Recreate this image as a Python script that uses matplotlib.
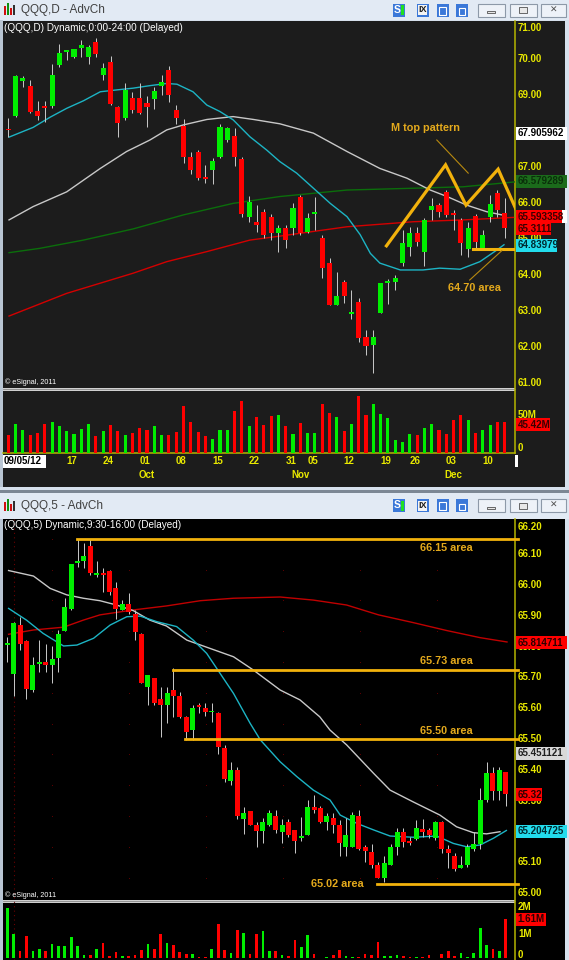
import matplotlib
matplotlib.use('Agg')
import matplotlib.pyplot as plt
import matplotlib.transforms as mtransforms
from matplotlib.patches import Rectangle
import numpy as np

# ---------------- DATA: daily QQQ chart ----------------
d_open = [68.05, 68.43, 69.40, 69.26, 68.56, 68.67, 68.70, 69.83, 70.20, 70.05,
          70.30, 70.06, 70.48, 69.56, 69.93, 68.68, 68.35, 68.93, 68.91, 68.79,
          68.88, 69.25, 69.69, 68.58, 68.15, 67.27, 67.43, 66.73, 66.92, 67.29,
          67.75, 67.86, 67.21, 65.62, 65.48, 65.76, 65.62, 65.16, 65.31, 65.30,
          66.18, 65.20, 65.70, 65.02, 64.33, 63.17, 63.81, 62.93, 63.26, 62.29,
          62.06, 62.95, 63.78, 63.81, 64.33, 64.79, 65.16, 64.65, 65.81, 65.94,
          66.31, 65.70, 65.53, 64.71, 65.64, 64.74, 65.60, 66.29, 65.71]
d_close = [68.02, 69.54, 69.46, 68.54, 68.43, 68.64, 69.56, 70.16, 70.23, 70.28,
           70.39, 70.33, 70.14, 69.74, 68.75, 68.21, 69.14, 68.58, 68.49, 68.68,
           69.11, 69.37, 69.00, 68.35, 67.27, 66.92, 66.70, 66.67, 67.17, 68.12,
           68.07, 67.29, 65.69, 66.02, 65.39, 65.11, 65.16, 65.31, 64.97, 65.85,
           65.16, 65.58, 65.72, 64.19, 63.17, 63.42, 63.42, 62.95, 62.24, 62.03,
           62.29, 63.77, 63.80, 63.91, 64.90, 65.16, 64.93, 65.53, 65.93, 65.76,
           65.67, 65.68, 64.88, 65.30, 64.93, 65.11, 65.97, 65.81, 65.31]
d_high = [68.36, 69.56, 69.54, 69.42, 68.83, 68.83, 69.86, 70.42, 70.25, 70.28,
          70.53, 70.39, 70.58, 69.89, 70.08, 68.70, 69.33, 69.09, 69.33, 68.97,
          69.23, 69.56, 69.81, 68.72, 68.33, 67.43, 67.47, 67.06, 67.26, 68.19,
          68.11, 68.07, 67.27, 66.20, 65.94, 65.83, 65.70, 65.40, 65.40, 66.00,
          66.22, 65.72, 66.18, 65.11, 64.46, 64.09, 63.86, 63.58, 63.35, 62.47,
          62.47, 63.79, 63.88, 64.00, 65.25, 65.33, 65.34, 65.58, 66.14, 66.00,
          66.36, 65.81, 65.58, 65.48, 65.69, 65.25, 66.22, 66.36, 66.13]
d_low = [67.83, 68.40, 69.23, 68.51, 68.31, 68.25, 68.64, 69.79, 69.97, 70.02,
         70.06, 69.86, 70.06, 69.42, 68.72, 67.84, 68.31, 68.50, 68.47, 68.12,
         68.61, 69.00, 68.81, 68.19, 67.11, 66.81, 66.64, 66.56, 66.52, 67.26,
         67.70, 67.03, 65.62, 65.48, 65.19, 65.03, 64.97, 64.65, 64.75, 65.11,
         65.11, 65.17, 65.25, 63.91, 63.17, 63.17, 63.23, 62.77, 62.15, 61.78,
         61.29, 62.95, 63.19, 63.58, 64.25, 64.53, 64.80, 64.25, 65.53, 65.62,
         65.62, 65.25, 64.56, 64.51, 64.69, 64.74, 65.48, 65.62, 65.03]
d_volume_m = [25.9, 42.9, 33.2, 25.9, 29.8, 42.9, 45.4, 39.0, 32.2, 27.3,
              35.6, 42.9, 24.4, 32.2, 41.5, 32.2, 25.9, 29.8, 37.1, 33.2,
              39.0, 25.9, 25.9, 30.7, 68.3, 45.4, 30.7, 24.4, 21.0, 33.2,
              33.2, 61.5, 76.1, 39.0, 52.7, 40.5, 53.7, 55.1, 39.0, 27.3,
              43.9, 29.8, 29.8, 71.2, 59.0, 52.7, 32.2, 42.9, 82.9, 55.1,
              71.2, 56.6, 51.7, 18.5, 16.1, 27.3, 25.9, 37.1, 42.0, 33.2,
              28.3, 48.8, 55.1, 47.8, 29.8, 33.2, 40.5, 45.4, 45.42]

# moving averages (bar index, value)
d_ma_cyan_x = [0.1, 3.4, 5.7, 8.0, 10.3, 12.6, 14.8, 17.1, 19.4, 21.7, 23.1, 25.3, 27.2, 29.0,
               30.8, 33.1, 35.4, 37.2, 39.5, 41.8, 44.1, 46.4, 48.2, 49.6, 50.9, 53.7, 56.8,
               59.1, 61.9, 64.6, 66.9, 67.9]
d_ma_cyan_y = [67.83, 68.10, 68.38, 68.63, 68.84, 69.09, 69.14, 69.19, 69.26, 69.32, 69.30, 69.09,
               68.72, 68.54, 68.31, 67.84, 67.47, 67.15, 66.83, 66.41, 65.99, 65.62, 65.12, 64.60,
               64.33, 64.14, 64.14, 64.19, 64.16, 64.37, 64.69, 64.84]
d_ma_gray_x = [0.1, 3.4, 8.0, 12.6, 16.2, 19.4, 21.7, 24.0, 27.2, 30.8, 33.6, 37.2, 41.8, 46.4,
               50.9, 54.6, 57.8, 60.1, 62.8, 65.5, 67.6]
d_ma_gray_y = [65.53, 65.90, 66.31, 66.96, 67.43, 67.75, 68.03, 68.17, 68.32, 68.40, 68.32, 68.20,
               67.94, 67.43, 66.96, 66.69, 66.36, 66.18, 65.94, 65.76, 65.67]
d_ma_green_x = [0.1, 4.3, 10.3, 17.1, 24.0, 30.8, 37.2, 46.4, 55.5, 62.3, 69.6]
d_ma_green_y = [64.62, 64.74, 64.97, 65.28, 65.67, 65.99, 66.18, 66.36, 66.41, 66.45, 66.59]
d_ma_red_x = [0.1, 8.0, 17.1, 21.7, 27.2, 33.1, 37.2, 46.4, 55.5, 62.3, 69.2]
d_ma_red_y = [62.86, 63.49, 64.05, 64.37, 64.65, 64.97, 65.08, 65.34, 65.48, 65.53, 65.60]

d_tick_idx = [9, 14, 19, 24, 29, 34, 39, 42, 47, 52, 56, 61, 66]
d_tick_lab = ['17', '24', '01', '08', '15', '22', '31', '05', '12', '19', '26', '03', '10']
d_month_idx = [19, 40, 61]
d_month_lab = ['Oct', 'Nov', 'Dec']
d_price_ticks = [71, 70, 69, 67, 66, 65, 64, 63, 62, 61]

# M-top pattern & annotations (bar index, price)
m_top_x = [51.8, 59.9, 62.7, 67.1, 69.6]
m_top_y = [64.81, 67.06, 65.94, 66.94, 65.80]
d_support_level = 64.71

# ---------------- DATA: 5-minute QQQ chart ----------------
m_open = [65.806, 65.711, 65.870, 65.819, 65.659, 65.744, 65.749, 65.740, 65.762, 65.851,
          65.921, 66.073, 66.079, 66.127, 66.032, 66.040, 66.047, 65.989, 65.919, 65.938,
          65.906, 65.841, 65.670, 65.697, 65.629, 65.610, 65.659, 65.640, 65.570, 65.529,
          65.610, 65.600, 65.587, 65.585, 65.470, 65.365, 65.399, 65.239, 65.266, 65.221,
          65.201, 65.221, 65.250, 65.199, 65.232, 65.203, 65.179, 65.188, 65.280, 65.277,
          65.232, 65.243, 65.221, 65.150, 65.150, 65.250, 65.150, 65.134, 65.091, 65.050,
          65.091, 65.150, 65.199, 65.169, 65.174, 65.207, 65.203, 65.178, 65.232, 65.142,
          65.120, 65.080, 65.091, 65.142, 65.159, 65.302, 65.390, 65.331, 65.394]
m_close = [65.810, 65.878, 65.808, 65.661, 65.740, 65.748, 65.740, 65.760, 65.840, 65.930,
           66.068, 66.077, 66.094, 66.040, 66.040, 66.032, 65.978, 65.921, 65.937, 65.913,
           65.848, 65.681, 65.708, 65.618, 65.610, 65.650, 65.640, 65.572, 65.524, 65.600,
           65.603, 65.589, 65.590, 65.473, 65.369, 65.399, 65.250, 65.259, 65.221, 65.201,
           65.229, 65.259, 65.203, 65.221, 65.188, 65.170, 65.183, 65.280, 65.269, 65.232,
           65.250, 65.221, 65.161, 65.188, 65.253, 65.142, 65.137, 65.091, 65.050, 65.099,
           65.150, 65.199, 65.167, 65.161, 65.210, 65.199, 65.188, 65.229, 65.142, 65.129,
           65.077, 65.091, 65.150, 65.159, 65.302, 65.389, 65.331, 65.399, 65.320]
m_high = [65.832, 65.881, 65.897, 65.821, 65.767, 65.821, 65.807, 65.803, 65.854, 65.957,
          66.068, 66.150, 66.135, 66.150, 66.079, 66.054, 66.049, 66.011, 65.951, 65.973,
          65.919, 65.845, 65.708, 65.698, 65.670, 65.670, 65.729, 65.654, 65.575, 65.610,
          65.616, 65.616, 65.616, 65.589, 65.481, 65.426, 65.410, 65.278, 65.266, 65.232,
          65.243, 65.269, 65.269, 65.240, 65.240, 65.203, 65.246, 65.302, 65.318, 65.284,
          65.259, 65.259, 65.237, 65.243, 65.264, 65.269, 65.156, 65.159, 65.102, 65.120,
          65.159, 65.210, 65.210, 65.183, 65.237, 65.240, 65.210, 65.235, 65.235, 65.156,
          65.129, 65.120, 65.159, 65.199, 65.340, 65.426, 65.410, 65.410, 65.394]
m_low = [65.751, 65.640, 65.789, 65.631, 65.652, 65.719, 65.719, 65.681, 65.719, 65.851,
         65.918, 66.060, 66.054, 66.032, 66.027, 65.978, 65.968, 65.889, 65.919, 65.906,
         65.821, 65.681, 65.610, 65.610, 65.507, 65.553, 65.572, 65.567, 65.497, 65.497,
         65.583, 65.575, 65.556, 65.451, 65.361, 65.351, 65.239, 65.192, 65.221, 65.150,
         65.161, 65.216, 65.195, 65.161, 65.182, 65.129, 65.170, 65.188, 65.259, 65.226,
         65.203, 65.195, 65.120, 65.120, 65.150, 65.140, 65.102, 65.081, 65.050, 65.037,
         65.091, 65.124, 65.150, 65.156, 65.172, 65.183, 65.178, 65.172, 65.129, 65.080,
         65.070, 65.080, 65.084, 65.137, 65.142, 65.297, 65.302, 65.302, 65.282]
m_volume_m = [2.07, 1.00, 0.31, 0.90, 0.31, 0.38, 0.31, 0.59, 0.49, 0.49,
              0.88, 0.49, 0.15, 0.15, 0.38, 0.62, 0.08, 0.26, 0.08, 0.08,
              0.15, 0.34, 0.58, 0.38, 1.00, 0.62, 0.53, 0.26, 0.19, 0.16,
              0.05, 0.05, 0.38, 1.41, 0.34, 0.21, 1.16, 1.03, 0.16, 1.00,
              1.11, 0.30, 0.28, 0.12, 0.08, 0.75, 0.45, 0.95, 0.16, 0.02,
              0.05, 0.12, 0.34, 0.08, 0.06, 0.06, 0.16, 0.12, 0.68, 0.08,
              0.08, 0.12, 0.08, 0.04, 0.06, 0.04, 0.12, 0.02, 0.16, 0.28,
              0.08, 0.22, 0.04, 0.21, 1.25, 0.53, 0.38, 0.30, 1.61]

m_ma_red_x = [0.2, 4.1, 8.8, 11.9, 14.5, 19.7, 24.9, 30.2, 35.4, 42.7, 47.9, 53.1, 58.1, 63.5,
              68.8, 74.0, 78.2]
m_ma_red_y = [65.840, 65.854, 65.863, 65.886, 65.903, 65.919, 65.932, 65.949, 65.957, 65.961,
              65.951, 65.935, 65.903, 65.878, 65.852, 65.829, 65.815]
m_ma_white_x = [0.2, 4.1, 6.7, 9.3, 11.9, 14.5, 17.1, 19.7, 22.3, 24.9, 28.1, 31.2, 35.4, 38.5,
                42.7, 45.8, 48.9, 50.5, 53.1, 57.3, 59.9, 63.5, 67.7, 70.3, 72.9, 75.0, 77.1]
m_ma_white_y = [66.047, 66.029, 65.989, 65.968, 65.957, 65.949, 65.935, 65.917, 65.886, 65.867,
                65.821, 65.798, 65.767, 65.724, 65.659, 65.627, 65.572, 65.529, 65.481, 65.389,
                65.334, 65.296, 65.253, 65.215, 65.196, 65.192, 65.199]
m_ma_cyan_x = [0.2, 3.0, 5.6, 8.8, 10.9, 13.5, 16.1, 18.7, 20.8, 23.4, 26.5, 29.1, 31.2, 33.3,
               35.4, 38.0, 39.6, 42.7, 45.3, 47.9, 50.5, 52.1, 54.7, 57.3, 59.9, 63.5, 67.2,
               69.8, 71.9, 74.0, 76.1, 78.1]
m_ma_cyan_y = [65.924, 65.886, 65.843, 65.802, 65.805, 65.827, 65.870, 65.897, 65.899, 65.881,
               65.865, 65.821, 65.778, 65.713, 65.648, 65.551, 65.497, 65.426, 65.378, 65.334,
               65.302, 65.253, 65.226, 65.205, 65.185, 65.181, 65.185, 65.161, 65.150, 65.156,
               65.178, 65.203]

m_price_ticks = [66.20, 66.10, 66.00, 65.90, 65.80, 65.70, 65.60, 65.50, 65.40, 65.30, 65.10, 65.00]
m_levels = [66.15, 65.725, 65.50, 65.03]
m_level_start = [10.9, 25.9, 27.8, 57.8]
m_level_text = ['66.15 area', '65.73 area', '65.50 area', '65.02 area']

# ---------------- LAYOUT ----------------
W, H = 569, 960
fig = plt.figure(figsize=(W / 100, H / 100), dpi=100)
plt.rcParams['font.family'] = ['Liberation Sans', 'DejaVu Sans']

GREEN = '#00ee00'
RED = '#ff0000'
WICK = '#c4c4c4'
YEL = '#e8e800'
GOLD = '#f2b20c'
GOLDTXT = '#e3a91c'
PX = 0.72  # one pixel in points

cv = fig.add_axes([0, 0, 1, 1], zorder=0)
cv.set_xlim(0, W)
cv.set_ylim(H, 0)
cv.axis('off')


def rect(x0, y0, x1, y1, fc, ec='none', lw=0, z=1):
    cv.add_patch(Rectangle((x0, y0), x1 - x0, y1 - y0, facecolor=fc, edgecolor=ec,
                           linewidth=lw, zorder=z))


def pax(x0, y0, x1, y1, xlim, ylim, z=2):
    ax = fig.add_axes([x0 / W, 1 - y1 / H, (x1 - x0) / W, (y1 - y0) / H], zorder=z)
    ax.set_xlim(*xlim)
    ax.set_ylim(*ylim)
    ax.axis('off')
    return ax


# window chrome
rect(0, 0, W, H, '#d6e0ec', z=0)
for (ty, name) in [(0, 'QQQ,D - AdvCh'), (492, 'QQQ,5 - AdvCh')]:
    th = 20 if ty == 0 else 27
    rect(0, ty, W, ty + th, '#e2eaf4', z=1)
    cy = ty + th / 2
    # app icon
    for k, (hh, col) in enumerate([(9, '#d01010'), (12, '#109010'), (7, '#d01010'), (10, '#303030')]):
        rect(4 + k * 3, cy + 5 - hh, 6 + k * 3, cy + 5, col, z=2)
    cv.text(21, cy, name, fontsize=8.5, color='#404040', va='center', ha='left', zorder=3)
    # toolbar icons
    rect(393, cy - 6.5, 405, cy + 6.5, '#3b78d8', z=2)
    cv.text(397.5, cy, 'S', fontsize=7.5, color='white', fontweight='bold', va='center', ha='center', zorder=3)
    rect(401, cy - 5, 404, cy + 5, '#20e020', z=3)
    rect(417, cy - 6.5, 429, cy + 6.5, '#3b78d8', z=2)
    rect(418.5, cy - 5, 427.5, cy + 5, '#f4f4f4', z=3)
    cv.text(423, cy, 'IX', fontsize=6.5, color='#202020', fontweight='bold', va='center', ha='center', zorder=4)
    rect(437, cy - 6.5, 449, cy + 6.5, '#3b78d8', z=2)
    rect(439.5, cy - 3.5, 446.5, cy + 4.5, '#3b78d8', ec='white', lw=0.8, z=3)
    rect(456, cy - 6.5, 468, cy + 6.5, '#3b78d8', z=2)
    rect(459, cy - 2, 465, cy + 4.5, '#3b78d8', ec='white', lw=0.8, z=3)
    # window buttons
    for bx0, bx1, sym in [(478, 505, 'min'), (510, 537, 'max'), (541, 566, 'x')]:
        rect(bx0, cy - 6.5, bx1, cy + 6.5, '#eef2f8', ec='#8d99a8', lw=0.8, z=2)
        mx = (bx0 + bx1) / 2
        if sym == 'min':
            rect(mx - 4, cy + 1, mx + 4, cy + 3, '#e8e8e8', ec='#505050', lw=0.6, z=3)
        elif sym == 'max':
            rect(mx - 4, cy - 3, mx + 4, cy + 3, '#e8e8e8', ec='#505050', lw=0.6, z=3)
        else:
            cv.text(mx, cy, '✕', fontsize=6.5, color='#505050', va='center', ha='center', zorder=3,
                    family=['DejaVu Sans'])

rect(0, 487, W, 490, '#d6e0ec', z=1)
rect(0, 490, W, 492.5, '#7c8794', z=1)

# chart backgrounds
rect(0, 20, 3, 487, '#b9c5d3', z=1)
rect(3, 20.5, 565, 487, '#1c1c1c', z=1)
rect(565, 20, W, 487, '#d6e0ec', z=1)
rect(0, 519, 3, H, '#b9c5d3', z=1)
rect(3, 519, 565, H, '#000000', z=1)
rect(565, 519, W, H, '#d6e0ec', z=1)

# separators between price and volume panes
rect(3, 387.5, 515, 390.5, '#cfcfcf', z=2)
cv.plot([3, 515], [389, 389], color='#7a7a7a', lw=0.5, zorder=3)
rect(3, 899.5, 515, 903, '#cfcfcf', z=2)
cv.plot([3, 515], [901.2, 901.2], color='#7a7a7a', lw=0.5, zorder=3)

# price axis lines
cv.plot([515.5, 515.5], [20.5, 453], color='#b5b500', lw=1.1, zorder=3)
cv.plot([3, 515.5], [453, 453], color='#b5b500', lw=1.1, zorder=3)
cv.plot([515.5, 515.5], [519, H], color='#b5b500', lw=1.1, zorder=3)
rect(515, 455, 518.5, 467, '#ffffff', z=3)

# headers / credits
cv.text(4, 28, '(QQQ,D) Dynamic,0:00-24:00 (Delayed)', fontsize=7.2, color='white',
        va='center', ha='left', zorder=4)
cv.text(4, 525.5, '(QQQ,5) Dynamic,9:30-16:00 (Delayed)', fontsize=7.2, color='white',
        va='center', ha='left', zorder=4)
cv.text(5, 382, '© eSignal, 2011', fontsize=5.2, color='white', va='center', ha='left', zorder=4)
cv.text(5, 895, '© eSignal, 2011', fontsize=5.2, color='white', va='center', ha='left', zorder=4)

# ---------------- helpers ----------------
def candles(ax, o, h, l, c, bw, minh):
    idx = np.arange(len(o))
    o = np.asarray(o); c = np.asarray(c)
    ax.vlines(idx, l, h, color=WICK, lw=PX, zorder=2)
    cols = [GREEN if cc >= oo else RED for oo, cc in zip(o, c)]
    bot = np.minimum(o, c)
    hgt = np.maximum(np.abs(c - o), minh)
    ax.bar(idx, hgt, bottom=bot, width=bw, color=cols, linewidth=0, zorder=3)
    return cols


def vbox(y, txt, bg, fg, x0=516, x1=567, z=6):
    rect(x0, y - 6.5, x1, y + 6.5, bg, z=z)
    if txt:
        cv.text(x0 + 1.5, y + 0.5, txt, fontsize=7, fontweight='bold', color=fg, va='center',
                ha='left', zorder=z + 1)


# ---------------- TOP (daily) ----------------
dx0, ddx = 8.3, 7.3
d_xlim = ((3 - dx0) / ddx, (515 - dx0) / ddx)
def d_y2p(y):
    return 70 - (y - 59) / 36.0

axd = pax(3, 20.5, 515, 387.5, d_xlim, (d_y2p(387.5), d_y2p(20.5)))
axd.plot(d_ma_red_x, d_ma_red_y, color='#d40000', lw=1.0, zorder=1)
axd.plot(d_ma_green_x, d_ma_green_y, color='#0b6e0b', lw=1.0, zorder=1)
axd.plot(d_ma_gray_x, d_ma_gray_y, color='#c8c8c8', lw=1.0, zorder=1)
axd.plot(d_ma_cyan_x, d_ma_cyan_y, color='#1cb4c4', lw=1.0, zorder=1)
d_cols = candles(axd, d_open, d_high, d_low, d_close, 0.70, 0.045)

axd.plot(m_top_x, m_top_y, color=GOLD, lw=2.3, solid_joinstyle='miter', zorder=5)
axd.text(57.2, 68.08, 'M top pattern', fontsize=7.8, fontweight='bold', color=GOLDTXT,
         ha='center', va='center', zorder=6)
axd.plot([58.7, 63.0], [67.75, 66.83], color='#b88a10', lw=0.8, zorder=5)
axd.plot([63.7, 70], [d_support_level, d_support_level], color=GOLD, lw=2.2, zorder=5)
axd.plot([63.2, 67.6], [63.86, 64.675], color='#b88a10', lw=0.8, zorder=5)
axd.text(63.9, 63.64, '64.70 area', fontsize=7.8, fontweight='bold', color=GOLDTXT,
         ha='center', va='center', zorder=6)

# top volume
d_vpx = 0.683
axdv = pax(3, 390.5, 515, 453, d_xlim, (0, (453 - 390.5) / d_vpx))
axdv.bar(np.arange(len(d_volume_m)), d_volume_m, width=0.42, color=d_cols, linewidth=0)

# price-axis labels (top)
for p in d_price_ticks:
    y = 59 + (70 - p) * 36
    if p == 71:
        y = 28
    cv.text(518, y, f'{p:.2f}', fontsize=7, fontweight='bold', color=YEL, va='center',
            ha='left', zorder=4)
cv.text(518, 415.5, '50M', fontsize=7, fontweight='bold', color=YEL, va='center', ha='left', zorder=4)
cv.text(518, 448, '0', fontsize=7, fontweight='bold', color=YEL, va='center', ha='left', zorder=4)

vbox(133, '67.905962', '#ffffff', '#000000')
vbox(181, '66.579289', '#1b6b1b', '#0a300a')
vbox(216.5, '', '#ffffff', '#000000')
vbox(216, '65.593358', '#ff0000', '#3a0000', x1=562, z=8)
vbox(228.5, '65.3111', '#ff0000', '#3a0000', x1=551, z=10)
vbox(245, '64.83979', '#22dcec', '#002a30', x1=557)
vbox(424, '45.42M', '#ff0000', '#3a0000', x1=550)

# date axis
blend_d = mtransforms.blended_transform_factory(axdv.transData, cv.transData)
for i, lab in zip(d_tick_idx, d_tick_lab):
    cv.text(i - 0.3, 461.5, lab, transform=blend_d, fontsize=7, fontweight='bold', color=YEL,
            ha='center', va='center', zorder=4)
for i, lab in zip(d_month_idx, d_month_lab):
    cv.text(i, 474.5, lab, transform=blend_d, fontsize=7, fontweight='bold', color=YEL,
            ha='center', va='center', zorder=4)
rect(3.5, 455, 46, 467.5, '#ffffff', z=4)
cv.text(4, 461.5, '09/05/12', fontsize=7, fontweight='bold', color='black', va='center',
        ha='left', zorder=5)

# ---------------- BOTTOM (5-minute) ----------------
mx0, mdx = 7.3, 6.39
m_xlim = ((3 - mx0) / mdx, (515 - mx0) / mdx)
def m_y2p(y):
    return 66 - (y - 585) / 308.0
def m_p2y(p):
    return 585 + (66 - p) * 308.0

axm = pax(3, 519, 515, 899.5, m_xlim, (m_y2p(899.5), m_y2p(519)))
# faint grid dots
gx = [52 + 77 * k for k in range(6)]
gp = [66.15 - 0.1 * k for k in range(12)]
for xg in gx:
    cv.scatter([xg] * len(gp), [m_p2y(p) for p in gp], s=0.6, color='#6a0000', zorder=2, linewidths=0)
cv.plot([14, 14], [519, H], color='#6a0000', lw=0.8, ls=(0, (1, 3)), zorder=2)

axm.plot(m_ma_red_x, m_ma_red_y, color='#c00000', lw=1.0, zorder=1)
axm.plot(m_ma_white_x, m_ma_white_y, color='#c8c8c8', lw=1.0, zorder=1)
axm.plot(m_ma_cyan_x, m_ma_cyan_y, color='#1cb4c4', lw=1.0, zorder=1)
m_cols = candles(axm, m_open, m_high, m_low, m_close, 0.78, 0.005)

for lvl, st, txt in zip(m_levels, m_level_start, m_level_text):
    axm.plot([st, m_xlim[1] + 0.45], [lvl, lvl], color=GOLD, lw=2.0, zorder=5, clip_on=False)
    if txt.startswith('65.02'):
        axm.text(51.6, lvl, txt, fontsize=7.8, fontweight='bold', color=GOLDTXT,
                 ha='center', va='center', zorder=6)
    else:
        axm.text(68.7, lvl + 0.027 if lvl < 66 else lvl - 0.03, txt, fontsize=7.8,
                 fontweight='bold', color=GOLDTXT, ha='center', va='center', zorder=6)

# bottom volume
m_vpx = 24.3
axmv = pax(3, 903, 515, H, m_xlim, ((958.3 - H) / m_vpx, (958.3 - 903) / m_vpx))
axmv.bar(np.arange(len(m_volume_m)), m_volume_m, width=0.42, color=m_cols, linewidth=0)

for p in m_price_ticks:
    y = m_p2y(p)
    if p > 66.15:
        y = 527
    cv.text(518, y, f'{p:.2f}', fontsize=7, fontweight='bold', color=YEL, va='center',
            ha='left', zorder=4)
for lab, y in [('2M', 907.5), ('1M', 934), ('0', 955.5)]:
    cv.text(518, y, lab, fontsize=7, fontweight='bold', color=YEL, va='center', ha='left', zorder=4)

vbox(642, '65.814711', '#ff0000', '#2a0000')
vbox(753, '65.451121', '#d8d8d8', '#202020')
vbox(794, '65.32', '#ff0000', '#2a0000', x1=542)
vbox(831, '65.204725', '#22dcec', '#002a30')
vbox(919, '1.61M', '#ff0000', '#2a0000', x1=546)

fig.savefig('out.png', dpi=100, facecolor=fig.get_facecolor())
